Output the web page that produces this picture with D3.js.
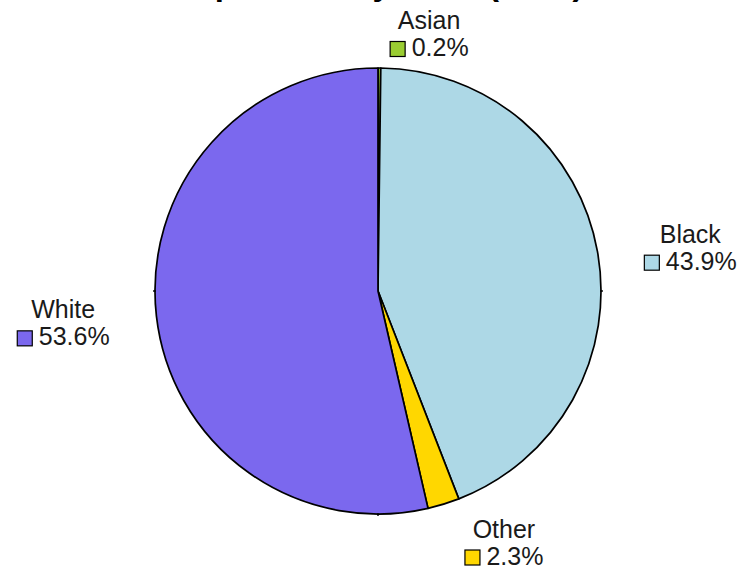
<!DOCTYPE html>
<html>
<head>
<meta charset="utf-8">
<script src="https://cdn.jsdelivr.net/npm/d3@7"></script>
<style>
  html, body { margin: 0; padding: 0; background: #fff; }
  svg { display: block; font-family: "Liberation Sans", Arial, sans-serif; }
</style>
</head>
<body>
<div id="chart"></div>
<script>
const title = 'Population by Race (2010)';
const groups = ['Asian', 'Black', 'Other', 'White'];
const shares = [0.2, 43.9, 2.3, 53.6];
const colors = ['#9acd32', '#add8e6', '#ffd700', '#7b68ee'];

const width = 749, height = 575;
const cx = 378, cy = 291, radius = 223;
const labelRadius = 260;

const svg = d3.select('#chart').append('svg')
    .attr('width', width)
    .attr('height', height);

// the title sits above the top edge; only its descenders show
svg.append('text')
    .attr('x', cx)
    .attr('y', -5)
    .attr('text-anchor', 'middle')
    .attr('font-size', 33)
    .attr('font-weight', 'bold')
    .attr('fill', '#000')
    .text(title);

const data = groups.map((g, i) => ({ name: g, value: shares[i], color: colors[i] }));

const pie = d3.pie().sort(null).value(d => d.value);
const arcs = pie(data);

const arc = d3.arc().innerRadius(0).outerRadius(radius);
const labelArc = d3.arc().innerRadius(labelRadius).outerRadius(labelRadius);

const g = svg.append('g').attr('transform', `translate(${cx},${cy})`);

g.selectAll('path.slice')
    .data(arcs)
    .enter()
    .append('path')
    .attr('class', 'slice')
    .attr('d', arc)
    .attr('fill', d => d.data.color)
    .attr('stroke', '#000')
    .attr('stroke-width', 1.7)
    .attr('stroke-linejoin', 'round');

// small ticks on the rim at the quarter points
[[-1, 0], [1, 0], [0, 1]].forEach(([dx, dy]) => {
    g.append('line')
        .attr('x1', dx * (radius - 1)).attr('y1', dy * (radius - 1))
        .attr('x2', dx * (radius + 2)).attr('y2', dy * (radius + 2))
        .attr('stroke', '#000')
        .attr('stroke-width', 1.4);
});

const fontSize = 25, square = 16, gap = 6;

arcs.forEach(d => {
    const [ax, ay] = labelArc.centroid(d);
    const px = cx + ax, py = cy + ay;
    const mid = (d.startAngle + d.endAngle) / 2;
    const right = mid < Math.PI;

    const lab = svg.append('g');
    const nameText = lab.append('text')
        .attr('font-size', fontSize)
        .attr('fill', '#1a1a1a')
        .attr('text-anchor', 'middle')
        .text(d.data.name);
    const valText = lab.append('text')
        .attr('font-size', fontSize)
        .attr('fill', '#1a1a1a')
        .text(d.data.value.toFixed(1) + '%');

    const nameW = nameText.node().getComputedTextLength();
    const valW = valText.node().getComputedTextLength();
    const lineW = square + gap + valW;
    const boxW = Math.max(nameW, lineW);
    const left = right ? px + 10 : px - 10 - boxW;
    const centerX = left + boxW / 2;
    const nameY = py - 2, valY = py + 25;

    nameText.attr('x', centerX).attr('y', nameY);
    const lineLeft = centerX - lineW / 2;
    lab.append('rect')
        .attr('x', lineLeft + 0.5)
        .attr('y', valY - 15 + 0.5)
        .attr('width', square - 1)
        .attr('height', square - 1)
        .attr('fill', d.data.color)
        .attr('stroke', '#000')
        .attr('stroke-width', 1.2);
    valText.attr('x', lineLeft + square + gap).attr('y', valY);
});
</script>
</body>
</html>
